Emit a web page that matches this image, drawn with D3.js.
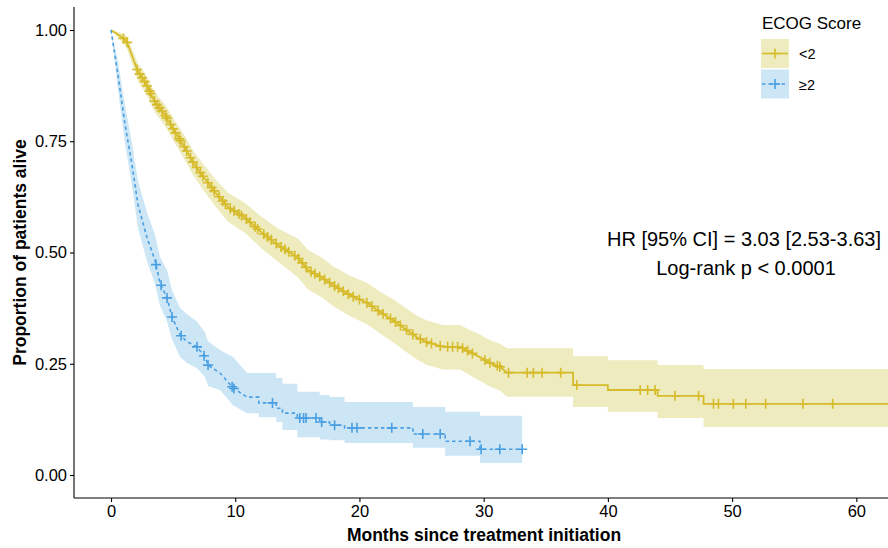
<!DOCTYPE html>
<html>
<head>
<meta charset="utf-8">
<script src="https://cdn.jsdelivr.net/npm/d3@7"></script>
<style>
  body { margin: 0; background: #fff; }
  text { font-family: "Liberation Sans", Arial, sans-serif; fill: #000; }
</style>
</head>
<body>
<div id="chart"></div>
<script>
/**
 * DATA
 * */
// ECOG < 2
const lowTime  = [0, 0.97, 1.29, 2.17, 2.74, 3.54, 4.35, 5.15, 5.96, 6.60, 7.33, 8.37, 9.42, 10.79, 12.16, 13.45, 15.06, 15.9, 17.0, 17.87, 19.24, 20.6, 21.66, 22.7, 23.8, 24.6, 25.4, 26.7, 28.1, 28.9, 29.7, 30.5, 31.3, 31.9, 37.2, 40.0, 44.0, 47.7];
const lowSurv  = [1, 0.982, 0.973, 0.906, 0.883, 0.838, 0.809, 0.771, 0.735, 0.703, 0.674, 0.636, 0.602, 0.578, 0.544, 0.517, 0.488, 0.460, 0.443, 0.427, 0.404, 0.387, 0.366, 0.348, 0.326, 0.310, 0.299, 0.288, 0.288, 0.276, 0.265, 0.252, 0.243, 0.230, 0.202, 0.191, 0.178, 0.160];
const lowUpper = [1, 0.992, 0.985, 0.925, 0.903, 0.860, 0.832, 0.796, 0.761, 0.730, 0.702, 0.666, 0.634, 0.611, 0.579, 0.554, 0.531, 0.505, 0.488, 0.469, 0.448, 0.432, 0.412, 0.395, 0.374, 0.358, 0.348, 0.337, 0.337, 0.326, 0.316, 0.303, 0.295, 0.285, 0.267, 0.258, 0.247, 0.238];
const lowLower = [1, 0.970, 0.958, 0.885, 0.861, 0.814, 0.784, 0.745, 0.707, 0.674, 0.644, 0.605, 0.569, 0.544, 0.508, 0.479, 0.444, 0.416, 0.399, 0.380, 0.357, 0.339, 0.318, 0.299, 0.276, 0.260, 0.248, 0.237, 0.237, 0.224, 0.212, 0.199, 0.190, 0.176, 0.153, 0.142, 0.128, 0.108];
const lowEnd = 62.6;
const lowCensor = [1.0, 1.3, 2.1, 2.3, 2.5, 2.7, 2.9, 3.1, 3.2, 3.5, 3.7, 3.9, 4.1, 4.4, 4.5, 4.8, 5.0, 5.2, 5.5, 5.6, 5.9, 6.1, 6.4, 6.6, 6.9, 7.2, 7.4, 7.8, 8.1, 8.3, 8.7, 9.0, 9.2, 9.6, 9.9, 10.3, 10.5, 10.9, 11.2, 11.6, 11.8, 12.3, 12.6, 12.9, 13.3, 13.7, 14.0, 14.3, 14.8, 15.1, 15.4, 15.7, 16.1, 16.4, 16.8, 17.2, 17.6, 18.0, 18.3, 18.7, 19.1, 19.5, 20.0, 20.6, 21.0, 21.5, 21.9, 22.5, 22.9, 23.3, 23.8, 24.3, 24.9, 25.4, 25.8, 26.5, 27.1, 27.5, 27.9, 28.3, 28.7, 29.1, 30.1, 30.5, 31.1, 31.3, 32.0, 33.5, 34.0, 34.7, 36.2, 37.5, 42.6, 43.2, 43.8, 45.4, 47.3, 48.5, 48.9, 50.1, 51.1, 52.7, 55.7, 58.1];

// ECOG >= 2
const highTime  = [0, 0.56, 1.13, 1.69, 2.17, 2.9, 3.54, 3.95, 4.51, 4.91, 5.56, 6.1, 6.92, 7.57, 7.81, 8.78, 9.82, 10.95, 11.9, 13.3, 13.8, 15.0, 16.8, 17.6, 18.8, 24.3, 26.9, 29.7];
const highSurv  = [1, 0.899, 0.787, 0.697, 0.607, 0.533, 0.483, 0.431, 0.398, 0.355, 0.315, 0.300, 0.288, 0.265, 0.247, 0.229, 0.196, 0.175, 0.162, 0.150, 0.139, 0.128, 0.119, 0.112, 0.106, 0.092, 0.076, 0.058];
const highUpper = [1, 0.930, 0.830, 0.745, 0.660, 0.590, 0.540, 0.490, 0.460, 0.415, 0.375, 0.362, 0.345, 0.320, 0.300, 0.281, 0.265, 0.229, 0.229, 0.218, 0.205, 0.187, 0.180, 0.175, 0.164, 0.153, 0.142, 0.133];
const highLower = [1, 0.865, 0.745, 0.650, 0.555, 0.480, 0.430, 0.380, 0.345, 0.305, 0.265, 0.252, 0.240, 0.220, 0.200, 0.191, 0.157, 0.139, 0.130, 0.119, 0.101, 0.085, 0.080, 0.078, 0.072, 0.061, 0.043, 0.027];
const highEnd = 33.1;
const highCensor = [3.62, 4.03, 4.51, 4.91, 5.64, 6.92, 7.49, 7.81, 9.75, 9.9, 13.0, 15.2, 15.5, 15.7, 16.5, 16.96, 18.0, 19.4, 19.8, 22.6, 25.1, 26.5, 28.9, 29.8, 31.3, 33.1];

const xTicks = [0, 10, 20, 30, 40, 50, 60];
const yTicks = [0, 0.25, 0.5, 0.75, 1];
const groupLabels = ["<2", "\u22652"];

/**
 * CONSTANTS
 * */
const width = 888,
  height = 548,
  margin = { top: 7, bottom: 50, left: 74, right: 0 };

const colors = {
  low: { line: "#D6BB2A", band: "#EEEBBE" },
  high: { line: "#4A9FE2", band: "#CCE6F6" }
};

const svg = d3.select("#chart")
  .append("svg")
  .attr("width", width)
  .attr("height", height);

const xScale = d3.scaleLinear()
  .domain([-2.98, 62.55])
  .range([margin.left, width - margin.right]);

const yScale = d3.scaleLinear()
  .domain([-0.0517, 1.0517])
  .range([height - margin.bottom, margin.top]);

// dense early part is drawn as a line, the sparse tail as true steps
function kmRows(times, surv, lower, upper, stepFrom, end) {
  const rows = [];
  times.forEach((t, i) => {
    if (i > 0 && t >= stepFrom) {
      rows.push({ t: t, s: surv[i - 1], lo: lower[i - 1], hi: upper[i - 1] });
    }
    rows.push({ t: t, s: surv[i], lo: lower[i], hi: upper[i] });
  });
  const n = times.length - 1;
  rows.push({ t: end, s: surv[n], lo: lower[n], hi: upper[n] });
  return rows;
}

// y position of a censor mark on the drawn path
function survAt(rows, t) {
  for (let i = rows.length - 1; i >= 0; i--) {
    if (rows[i].t <= t) {
      const a = rows[i], b = rows[i + 1];
      if (!b || b.t === a.t) return a.s;
      return a.s + (b.s - a.s) * (t - a.t) / (b.t - a.t);
    }
  }
  return rows[0].s;
}

const groups = [
  { key: "low", rows: kmRows(lowTime, lowSurv, lowLower, lowUpper, 32, lowEnd), censor: lowCensor, dash: null },
  { key: "high", rows: kmRows(highTime, highSurv, highLower, highUpper, 11.5, highEnd), censor: highCensor, dash: "3.5,3" }
];

svg.append("clipPath")
  .attr("id", "panel")
  .append("rect")
  .attr("x", margin.left)
  .attr("y", margin.top)
  .attr("width", width - margin.left - margin.right)
  .attr("height", height - margin.top - margin.bottom);

const plot = svg.append("g").attr("clip-path", "url(#panel)");

const area = d3.area()
  .x(d => xScale(d.t))
  .y0(d => yScale(d.lo))
  .y1(d => yScale(d.hi));

const line = d3.line()
  .x(d => xScale(d.t))
  .y(d => yScale(d.s));

// confidence bands
plot.selectAll(".band")
  .data(groups)
  .join("path")
  .attr("class", "band")
  .attr("fill", d => colors[d.key].band)
  .attr("d", d => area(d.rows));

// survival curves
plot.selectAll(".curve")
  .data(groups)
  .join("path")
  .attr("class", "curve")
  .attr("fill", "none")
  .attr("stroke", d => colors[d.key].line)
  .attr("stroke-width", d => d.key === "low" ? 1.8 : 1.6)
  .attr("stroke-dasharray", d => d.dash)
  .attr("d", d => line(d.rows));

// censor marks
const cross = "M-5,0H5M0,-5V5";
groups.forEach(g => {
  plot.selectAll(".mark-" + g.key)
    .data(g.censor)
    .join("path")
    .attr("class", "mark-" + g.key)
    .attr("d", cross)
    .attr("fill", "none")
    .attr("stroke", colors[g.key].line)
    .attr("stroke-width", 1.6)
    .attr("transform", t => `translate(${xScale(t)},${yScale(survAt(g.rows, t))})`);
});

// AXES
const xAxis = d3.axisBottom(xScale).tickValues(xTicks).tickSize(4).tickPadding(3);
const yAxis = d3.axisLeft(yScale).tickValues(yTicks).tickSize(4).tickPadding(3)
  .tickFormat(d3.format(".2f"));

const gx = svg.append("g")
  .attr("transform", `translate(0,${height - margin.bottom})`)
  .call(xAxis);
const gy = svg.append("g")
  .attr("transform", `translate(${margin.left},0)`)
  .call(yAxis);

[gx, gy].forEach(g => {
  g.select(".domain").attr("stroke", "#000").attr("stroke-width", 1.1);
  g.selectAll(".tick line").attr("stroke", "#000").attr("stroke-width", 1.1);
  g.selectAll(".tick text")
    .attr("font-size", 16.5)
    .attr("font-family", "Liberation Sans, Arial, sans-serif")
    .attr("fill", "#000");
});
// full length axis lines, like the panel edges
gx.select(".domain").attr("d", `M${margin.left},0H${width}`);
gy.select(".domain").attr("d", `M0,${margin.top}V${height - margin.bottom}`);

svg.append("text")
  .attr("x", 484)
  .attr("y", 541)
  .attr("text-anchor", "middle")
  .attr("font-size", 17.5)
  .attr("font-weight", "bold")
  .text("Months since treatment initiation");

svg.append("text")
  .attr("transform", `translate(26,${(margin.top + height - margin.bottom) / 2}) rotate(-90)`)
  .attr("text-anchor", "middle")
  .attr("font-size", 17.5)
  .attr("font-weight", "bold")
  .text("Proportion of patients alive");

// ANNOTATION
svg.append("text")
  .attr("x", 744)
  .attr("y", 246)
  .attr("text-anchor", "middle")
  .attr("font-size", 20)
  .text("HR [95% CI] = 3.03 [2.53-3.63]");
svg.append("text")
  .attr("x", 746)
  .attr("y", 275)
  .attr("text-anchor", "middle")
  .attr("font-size", 20)
  .text("Log-rank p < 0.0001");

// LEGEND
const legend = svg.append("g").attr("transform", "translate(761,0)");
legend.append("text")
  .attr("x", 1)
  .attr("y", 29)
  .attr("font-size", 17)
  .text("ECOG Score");

const keys = legend.selectAll(".key")
  .data(groups)
  .join("g")
  .attr("class", "key")
  .attr("transform", (d, i) => `translate(0,${39 + i * 30.5})`);

keys.append("rect")
  .attr("width", 28)
  .attr("height", 29)
  .attr("fill", d => colors[d.key].band);
keys.append("line")
  .attr("x1", 1).attr("x2", 27)
  .attr("y1", 14.5).attr("y2", 14.5)
  .attr("stroke", d => colors[d.key].line)
  .attr("stroke-width", 1.6)
  .attr("stroke-dasharray", d => d.dash);
keys.append("path")
  .attr("d", cross)
  .attr("transform", "translate(14,14.5)")
  .attr("stroke", d => colors[d.key].line)
  .attr("stroke-width", 1.6);
keys.append("text")
  .attr("x", 38)
  .attr("y", 20)
  .attr("font-size", 14.5)
  .text((d, i) => groupLabels[i]);
</script>
</body>
</html>
